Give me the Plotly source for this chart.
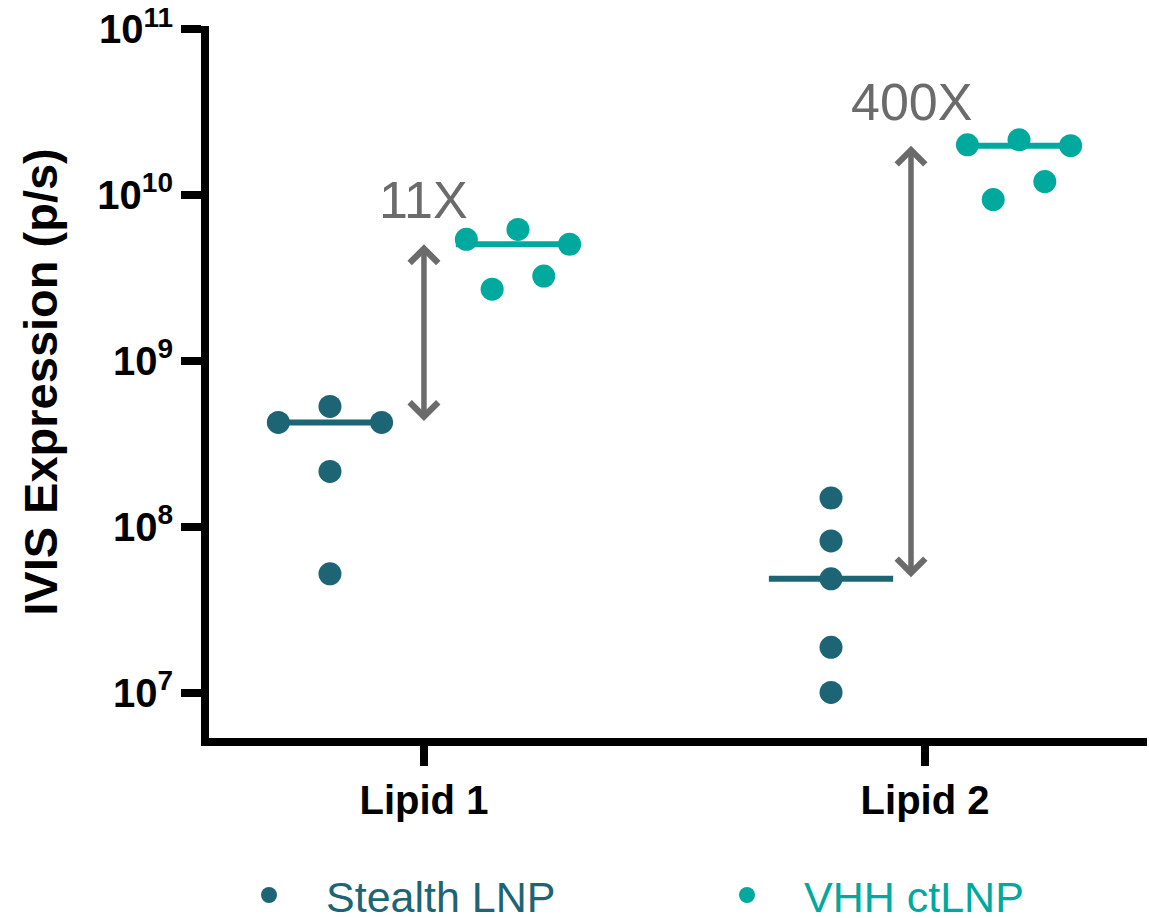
import numpy as np
import plotly.graph_objects as go

# ---------------- data ----------------
categories = ["Lipid 1", "Lipid 2"]

stealth_lipid1 = [4.28e8, 5.34e8, 4.28e8, 2.17e8, 5.24e7]
stealth_lipid1_jitter = [-1, 0, 1, 0, 0]
stealth_lipid2 = [1.50e8, 8.27e7, 4.89e7, 1.89e7, 1.01e7]
stealth_lipid2_jitter = [0, 0, 0, 0, 0]

vhh_lipid1 = [5.43e9, 2.72e9, 6.23e9, 3.26e9, 5.07e9]
vhh_lipid1_jitter = [-1, -0.5, 0, 0.5, 1]
vhh_lipid2 = [2.015e10, 9.43e9, 2.16e10, 1.21e10, 1.99e10]
vhh_lipid2_jitter = [-1, -0.5, 0, 0.5, 1]

fold_labels = ["11X", "400X"]

y_tickvals = [1e7, 1e8, 1e9, 1e10, 1e11]
y_ticktext = ["<b>10<sup>7</sup></b>", "<b>10<sup>8</sup></b>", "<b>10<sup>9</sup></b>",
              "<b>10<sup>10</sup></b>", "<b>10<sup>11</sup></b>"]

# ---------------- style ----------------
DARK = "#1d6474"
TEAL = "#00a99d"
GRAY = "#6b6b6b"
FONT = "Liberation Sans, Arial, sans-serif"

group_offset = 0.1876
jitter_step = 0.103
median_half = 0.124
arrow_offsets = [0.0, -0.028]

series = [
    ("Stealth LNP", DARK, -group_offset, [stealth_lipid1, stealth_lipid2],
     [stealth_lipid1_jitter, stealth_lipid2_jitter], "legend"),
    ("VHH ctLNP", TEAL, group_offset, [vhh_lipid1, vhh_lipid2],
     [vhh_lipid1_jitter, vhh_lipid2_jitter], "legend2"),
]

fig = go.Figure()
medians = {}
for name, color, off, vals, jits, leg in series:
    for i, v in enumerate(vals):
        c = i + 1 + off
        m = float(np.median(v))
        medians[(name, i)] = m
        fig.add_trace(go.Scatter(
            x=[c - median_half, c + median_half], y=[m, m], mode="lines",
            line=dict(color=color, width=6), showlegend=False, hoverinfo="skip"))
    xs, ys = [], []
    for i, (v, j) in enumerate(zip(vals, jits)):
        xs += [i + 1 + off + jj * jitter_step for jj in j]
        ys += list(v)
    fig.add_trace(go.Scatter(
        x=xs, y=ys, mode="markers", legend=leg,
        marker=dict(size=23, color=color, line=dict(width=0)),
        name=f'<span style="color:{color}">{name}</span>'))

for i in range(2):
    low = medians[("Stealth LNP", i)]
    high = medians[("VHH ctLNP", i)]
    x = i + 1 + arrow_offsets[i]
    fig.add_annotation(
        x=x, y=np.log10(high), ax=x, ay=np.log10(low),
        xref="x", yref="y", axref="x", ayref="y", text="",
        showarrow=True, arrowhead=4, startarrowhead=4, arrowside="end+start",
        arrowsize=1.0, startarrowsize=1.0, arrowwidth=5.5, arrowcolor=GRAY)
    fig.add_annotation(
        x=x, y=np.log10(high), xref="x", yref="y", text=fold_labels[i],
        showarrow=False, yshift=44, yanchor="middle", xanchor="center",
        font=dict(size=52, color=GRAY, family=FONT))

legend_common = dict(
    orientation="h", xref="container", yref="container",
    xanchor="left", yanchor="middle",
    font=dict(size=43), itemwidth=104, bgcolor="rgba(0,0,0,0)")

fig.update_layout(
    width=1149, height=918,
    margin=dict(l=209, r=2, t=22, b=180),
    plot_bgcolor="white", paper_bgcolor="white",
    font=dict(family=FONT, color="black"),
    hovermode=False,
    xaxis=dict(
        range=[0.571, 2.443], tickvals=[1, 2],
        ticktext=[f"<b>{c}</b>" for c in categories],
        showline=True, linewidth=8, linecolor="black",
        ticks="outside", ticklen=20, tickwidth=8, tickcolor="black",
        showgrid=False, zeroline=False, tickfont=dict(size=40, color="black")),
    yaxis=dict(
        type="log", range=[6.730, 11.02],
        tickvals=y_tickvals, ticktext=y_ticktext, ticklabeloverflow="allow",
        showline=True, linewidth=8, linecolor="black",
        ticks="outside", ticklen=20, tickwidth=8, tickcolor="black",
        showgrid=False, zeroline=False, tickfont=dict(size=40, color="black"),
        title=dict(text="<b>IVIS Expression (p/s)</b>", font=dict(size=47), standoff=28)),
    legend=dict(x=212 / 1149, y=0.025, **legend_common),
    legend2=dict(x=690 / 1149, y=0.025, **legend_common),
)

fig.write_html("out.html")
